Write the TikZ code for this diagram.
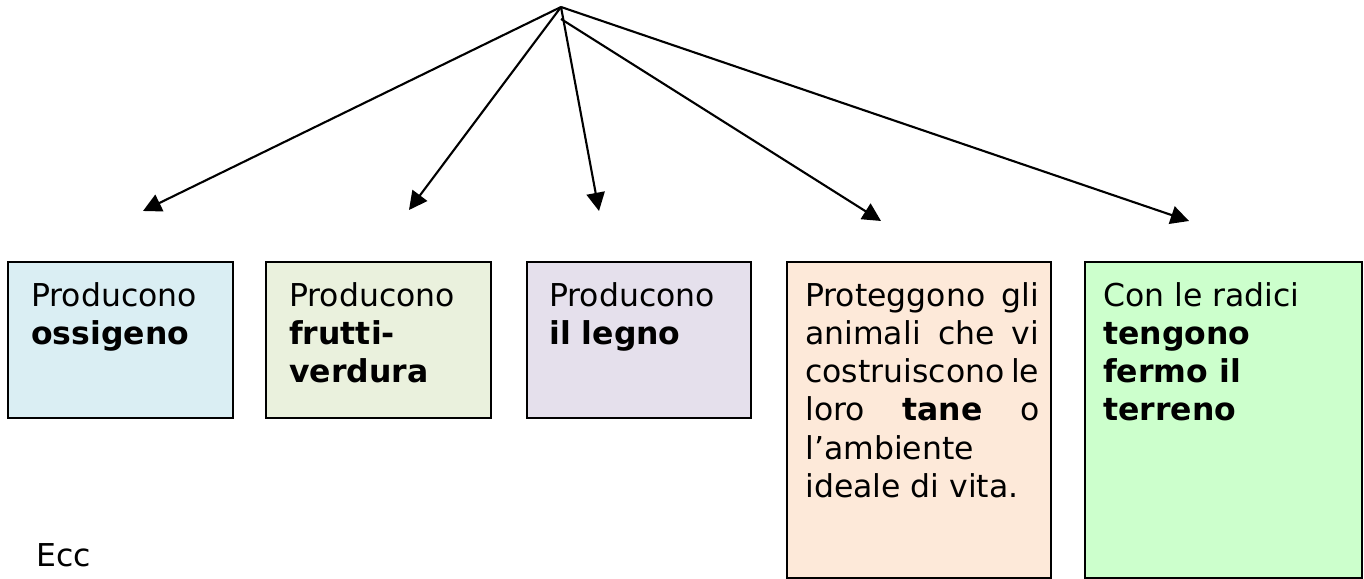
\documentclass[tikz,border=0pt]{standalone}
\usepackage{fontspec}
\usepackage{xcolor}
\usepackage{tikz}
\usetikzlibrary{arrows.meta}
\setmainfont{DejaVu Sans}

\definecolor{boxblue}{HTML}{DAEEF3}
\definecolor{boxolive}{HTML}{EAF1DD}
\definecolor{boxlilac}{HTML}{E5E0EC}
\definecolor{boxpeach}{HTML}{FDE9D9}
\definecolor{boxgreen}{HTML}{CCFFCC}

% one justified line of the orange box
\newcommand\taneline[1]{\makebox[5.85cm][s]{#1}}

\tikzset{
  treearrow/.style={line width=1.5pt, -{Triangle[length=13pt,width=13pt]}},
  boxtext/.style={anchor=north west, inner sep=0pt, align=left,
    font=\fontsize{22.4pt}{27.2pt}\selectfont}
}

\begin{document}
\begin{tikzpicture}
  \useasboundingbox (0,0) rectangle (34.1,14.475);

  % the common point and the arrow tips
  \coordinate (apex) at (14.025,14.3);
  \coordinate (apexlow) at (14.025,14.0);
  \coordinate (tipossigeno) at (3.575,9.2);
  \coordinate (tipfrutti) at (10.225,9.225);
  \coordinate (tiplegno) at (14.975,9.2);
  \coordinate (tiptane) at (22.025,8.95);
  \coordinate (tipterreno) at (29.725,8.95);

  \draw[treearrow] (apex) -- (tipossigeno);
  \draw[treearrow] (apex) -- (tipfrutti);
  \draw[treearrow] (apex) -- (tiplegno);
  \draw[treearrow] (apexlow) -- (tiptane);
  \draw[treearrow] (apex) -- (tipterreno);

  % boxes
  \draw[line width=0.8pt, fill=boxblue] (0.2,4.025) rectangle (5.825,7.925);
  \node[boxtext] (ossigeno) at (0.775,7.425) {Producono\\\textbf{ossigeno}};

  \draw[line width=0.8pt, fill=boxolive] (6.65,4.025) rectangle (12.275,7.925);
  \node[boxtext] (frutti) at (7.225,7.425) {Producono\\\textbf{frutti-}\\\textbf{verdura}};

  \draw[line width=0.8pt, fill=boxlilac] (13.175,4.025) rectangle (18.775,7.925);
  \node[boxtext] (legno) at (13.725,7.425) {Producono\\\textbf{il legno}};

  \draw[line width=0.8pt, fill=boxpeach] (19.675,0.025) rectangle (26.275,7.925);
  \node[boxtext] (tane) at (20.125,7.425)
    {\taneline{Proteggono gli}\\\taneline{animali che vi}\\
     \taneline{costruiscono le}\\\taneline{loro \textbf{tane} o}\\
     l’ambiente\\ideale di vita.};

  \draw[line width=0.8pt, fill=boxgreen] (27.125,0.025) rectangle (34.05,7.925);
  \node[boxtext] (terreno) at (27.575,7.425)
    {Con le radici\\\textbf{tengono}\\\textbf{fermo il}\\\textbf{terreno}};

  \node[anchor=base west, inner sep=0pt, font=\fontsize{22.4pt}{27.2pt}\selectfont]
    (ecc) at (0.9,0.3) {Ecc};
\end{tikzpicture}
\end{document}
